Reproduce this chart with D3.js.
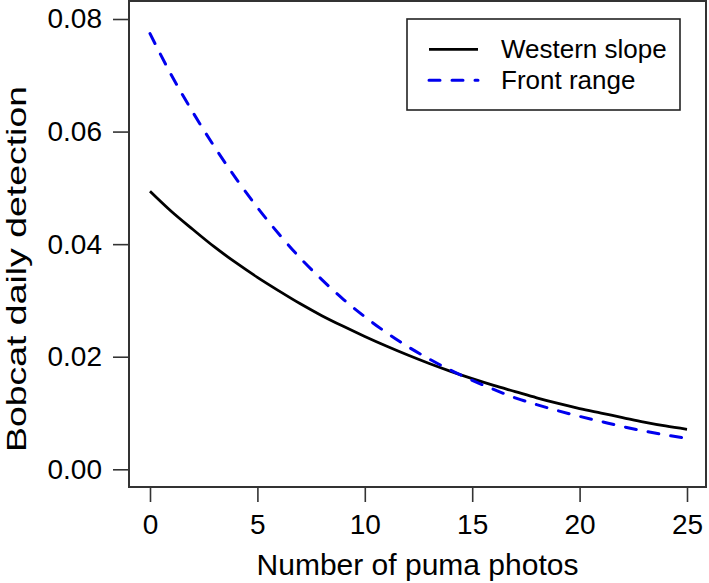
<!DOCTYPE html>
<html>
<head>
<meta charset="utf-8">
<script src="https://cdn.jsdelivr.net/npm/d3@7"></script>
<style>
  body{ margin:0; background:white; }
</style>
</head>
<body>
<div id="container"></div>
<script>
let w = 709;
let h = 583;

// values
let photos = [0,1,2,3,4,5,6,7,8,9,10,11,12,13,14,15,16,17,18,19,20,21,22,23,24,25];
let western = [0.0494,0.0458,0.0426,0.0395,0.0367,0.0341,0.0317,0.0294,0.0273,0.0254,
  0.0236,0.0219,0.0203,0.0188,0.0174,0.0161,0.0149,0.0138,0.0127,0.0117,
  0.0108,0.0100,0.0092,0.0084,0.0077,0.0071];
let front = [0.0774,0.0700,0.0634,0.0573,0.0517,0.0465,0.0418,0.0375,0.0337,0.0302,
  0.0271,0.0243,0.0218,0.0196,0.0176,0.0158,0.0142,0.0127,0.0115,0.0104,
  0.0094,0.0085,0.0076,0.0068,0.0061,0.0055];
let xTicks = [0,5,10,15,20,25];
let yTicks = [0,0.02,0.04,0.06,0.08];
let seriesNames = ["Western slope", "Front range"];

let font = "'Liberation Sans', Arial, sans-serif";

let viz = d3.select("#container")
  .append("svg")
    .attr("width", w)
    .attr("height", h)
    .style("background-color", "white")
;

// plot box edges
let box = {left: 129, right: 706, top: 1, bottom: 487};

let xScale = d3.scaleLinear().domain([0, 25]).range([150, 687]);
let yScale = d3.scaleLinear().domain([0, 0.08]).range([469.3, 19]);

// axes, R style: outward ticks, no domain line (the box covers it)
let xAxis = d3.axisBottom(xScale).tickValues(xTicks).tickSize(15).tickPadding(12);
let xAxisGroup = viz.append("g").attr("class", "xaxis")
  .attr("transform", "translate(0," + box.bottom + ")")
  .call(xAxis)
;
let yAxis = d3.axisLeft(yScale).tickValues(yTicks).tickSize(16).tickPadding(11)
  .tickFormat(d3.format(".2f"));
let yAxisGroup = viz.append("g").attr("class", "yaxis")
  .attr("transform", "translate(" + box.left + ",0)")
  .call(yAxis)
;
viz.selectAll(".domain").remove();
viz.selectAll(".tick line").attr("stroke", "#333").attr("stroke-width", 1.6);
viz.selectAll(".tick text")
  .attr("fill", "black")
  .attr("font-family", font)
  .attr("font-size", 28)
;

// box around the plot
viz.append("rect")
  .attr("x", box.left)
  .attr("y", box.top)
  .attr("width", box.right - box.left)
  .attr("height", box.bottom - box.top)
  .attr("fill", "none")
  .attr("stroke", "#333")
  .attr("stroke-width", 2)
;

// the two curves
let line = d3.line()
  .x(function(d, i){ return xScale(photos[i]); })
  .y(function(d){ return yScale(d); })
  .curve(d3.curveMonotoneX)
;

viz.append("path")
  .attr("d", line(western))
  .attr("fill", "none")
  .attr("stroke", "black")
  .attr("stroke-width", 2.8)
;
viz.append("path")
  .attr("d", line(front))
  .attr("fill", "none")
  .attr("stroke", "#0000ee")
  .attr("stroke-width", 3)
  .attr("stroke-dasharray", "11,12")
  .attr("stroke-linecap", "round")
;

// axis titles
viz.append("text")
  .text("Number of puma photos")
  .attr("x", (box.left + box.right) / 2)
  .attr("y", 575)
  .attr("text-anchor", "middle")
  .attr("font-family", font)
  .attr("font-size", 30)
;
viz.append("text")
  .text("Bobcat daily detection")
  .attr("transform", "translate(26,269) rotate(-90)")
  .attr("text-anchor", "middle")
  .attr("font-family", font)
  .attr("font-size", 28)
  .attr("textLength", 366)
  .attr("lengthAdjust", "spacingAndGlyphs")
;

// legend
let legend = viz.append("g").attr("class", "legend");
legend.append("rect")
  .attr("x", 407)
  .attr("y", 19)
  .attr("width", 273)
  .attr("height", 91)
  .attr("fill", "white")
  .attr("stroke", "#222")
  .attr("stroke-width", 1.6)
;
let legendRows = legend.selectAll(".row").data(seriesNames).enter()
  .append("g")
  .attr("class", "row")
  .attr("transform", function(d, i){
    return "translate(0," + (49.3 + i * 31) + ")";
  })
;
legendRows.append("line")
  .attr("x1", 429)
  .attr("x2", 478)
  .attr("y1", 0)
  .attr("y2", 0)
  .attr("stroke", function(d, i){ return i == 0 ? "black" : "#0000ee"; })
  .attr("stroke-width", function(d, i){ return i == 0 ? 2.8 : 3; })
  .attr("stroke-dasharray", function(d, i){ return i == 0 ? null : "11,12"; })
  .attr("stroke-linecap", function(d, i){ return i == 0 ? "butt" : "round"; })
;
legendRows.append("text")
  .text(function(d){ return d; })
  .attr("x", 501)
  .attr("y", 9)
  .attr("font-family", font)
  .attr("font-size", 26)
;
</script>
</body>
</html>
